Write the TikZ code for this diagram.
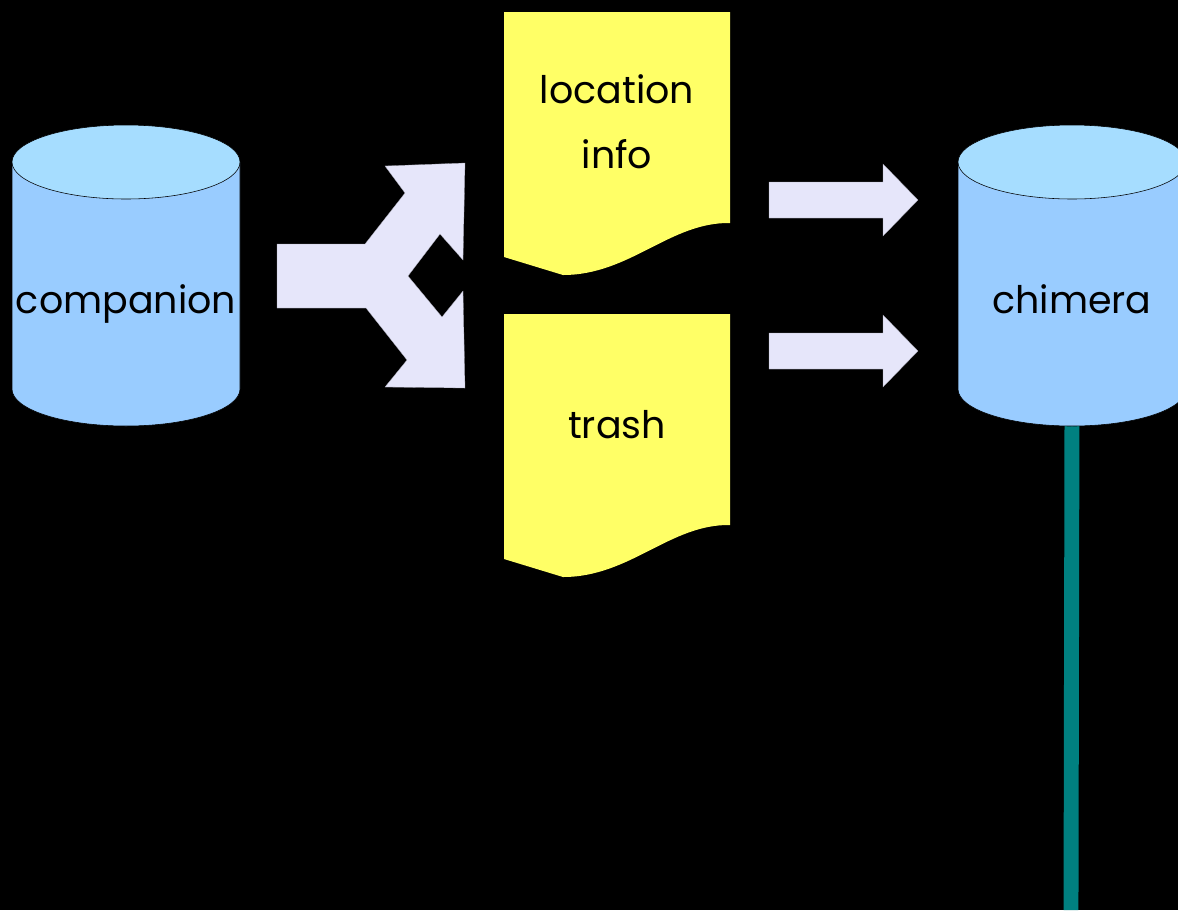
\documentclass[tikz,border=0pt]{standalone}
\usepackage{fontspec}
\setmainfont{Poppins}
\usepackage{tikz}
\usetikzlibrary{calc}
\definecolor{lavande}{HTML}{E6E6FA}
\definecolor{jaune}{HTML}{FFFF66}
\definecolor{cielbas}{HTML}{99CCFF}
\definecolor{cielhaut}{HTML}{A6DDFF}
\definecolor{canard}{HTML}{008080}
\tikzset{fig/.style={
    thin},
  cyl/.style={fig,draw=black,fill=cielbas},
  cyltop/.style={fig,draw=black,fill=cielhaut},
  doc/.style={fill=jaune},
  flow/.style={fill=lavande,draw=lavande!70!black,very thin},
  lbl/.style={font=\fontsize{27}{40}\selectfont,text=black,anchor=base,inner sep=0pt}}

\begin{document}
\begin{tikzpicture}[x=0.025cm,y=0.025cm]

\fill[black] (0,0) rectangle (1178,-910);
\useasboundingbox (0,0) rectangle (1178,-910);
\clip (0,0) rectangle (1178,-910);

\coordinate (C1) at (126,-313);
\coordinate (C2) at (1072,-313);
\coordinate (D1) at (617,-103);
\coordinate (D2) at (617,-438);
\coordinate (bas) at (1071,-910);

% stand under chimera
\draw[canard,line width=10.6pt] (C2 |- 0,-400) -- (bas);

% cylinders
\draw[cyl] (12,-162) -- (12,-389) arc (180:360:114 and 37) -- (240,-162) -- cycle;
\draw[cyltop] (126,-162) ellipse (114 and 37);
\draw[cyl] (958,-162) -- (958,-389) arc (180:360:114 and 37) -- (1186,-162) -- cycle;
\draw[cyltop] (1072,-162) ellipse (114 and 37);

\node[lbl] (companion) at (C1) {companion};
\node[lbl] (chimera) at (C2) {chimera};

% documents
\foreach \dy in {0,302}{
  \fill[doc] (504,-12-\dy) -- (730,-12-\dy) -- (730,-223-\dy)
    .. controls (670,-222-\dy) and (630,-275-\dy) .. (563,-275-\dy)
    -- (504,-257-\dy) -- cycle;
}

\node[lbl] (location) at (D1) {location};
\node[lbl] (info) at ($(D1)+(0,-65)$) {info};
\node[lbl] (trash) at (D2) {trash};

% split arrow
\draw[flow] (277,-244) -- (365,-244) -- (405,-193) -- (385,-166) -- (465,-163)
  -- (463,-260) -- (440,-234) -- (408,-276) -- (442,-317) -- (463,-291)
  -- (465,-388) -- (385,-387) -- (407,-360) -- (366,-308) -- (277,-308) -- cycle;

% arrows to chimera
\foreach \ya in {200,351}{
  \draw[flow] (769,-\ya+18) -- (883,-\ya+18) -- (883,-\ya+36) -- (918,-\ya)
    -- (883,-\ya-36) -- (883,-\ya-18) -- (769,-\ya-18) -- cycle;
}

\end{tikzpicture}
\end{document}
